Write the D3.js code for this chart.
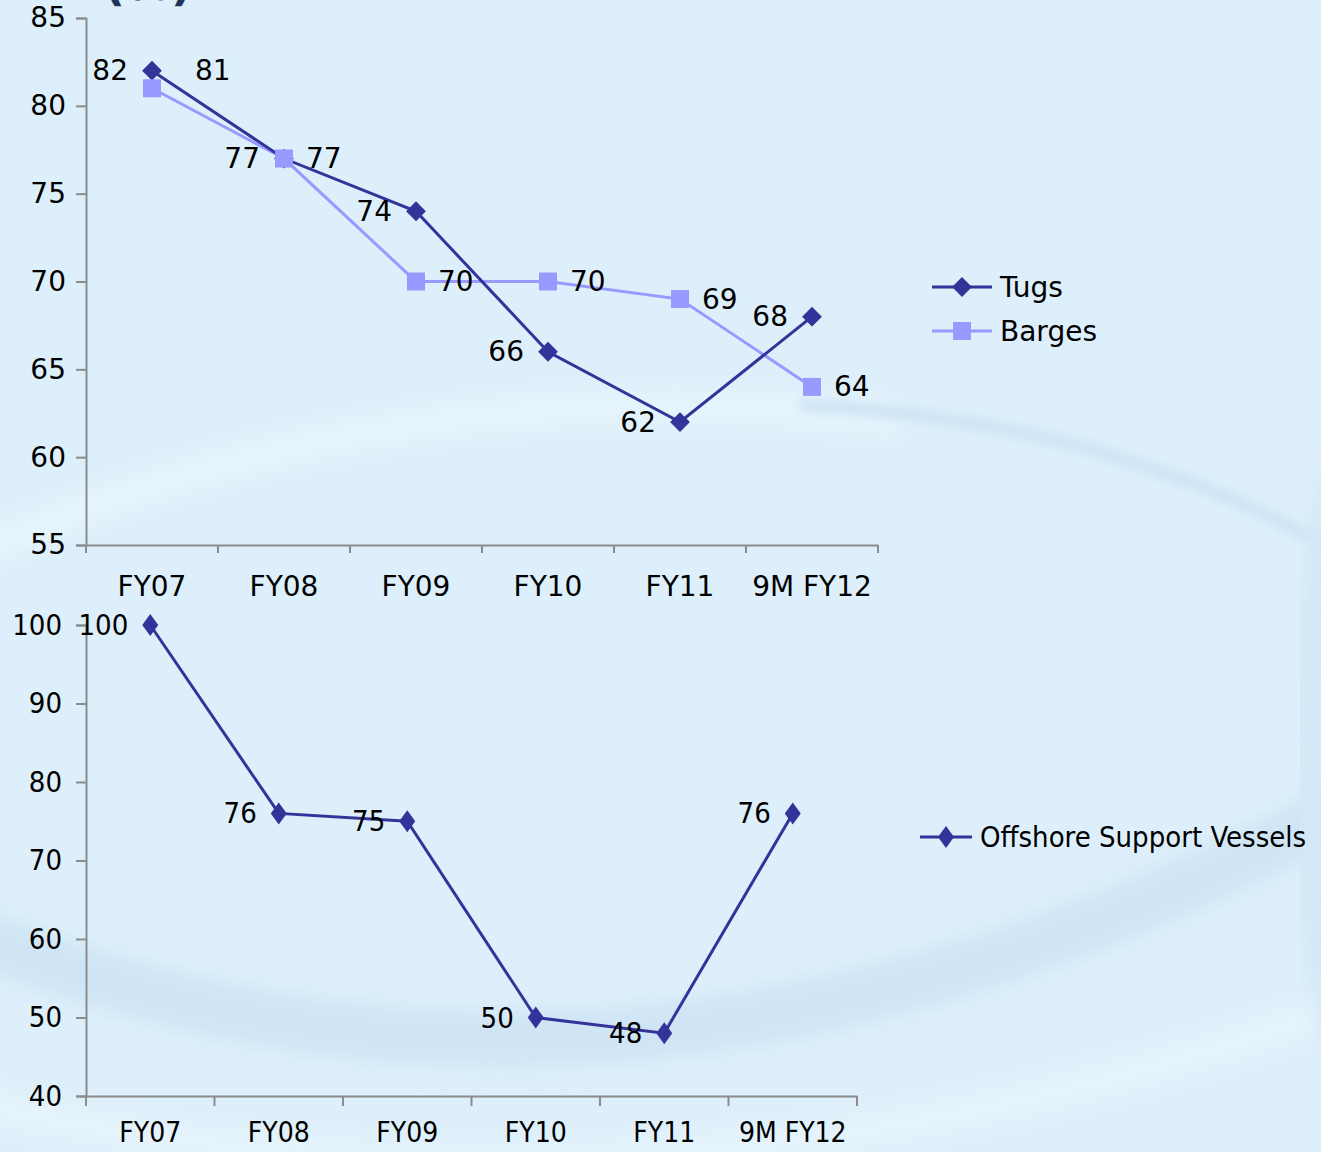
<!DOCTYPE html>
<html>
<head>
<meta charset="utf-8">
<script src="https://cdn.jsdelivr.net/npm/d3@7"></script>
<style>
  html, body { margin: 0; padding: 0; background: #ddeffa; }
  svg { display: block; }
  .upper text { font-family: "DejaVu Sans", Verdana, sans-serif; font-size: 28px; fill: #000; }
  .lower text { font-family: "DejaVu Sans Condensed", "DejaVu Sans", sans-serif; font-stretch: condensed; font-size: 29px; fill: #000; }
</style>
</head>
<body>
<svg id="chart" width="1321" height="1152"></svg>
<script>
// data
const categories = ["FY07", "FY08", "FY09", "FY10", "FY11", "9M FY12"];
const tugs = [82, 77, 74, 66, 62, 68];
const barges = [81, 77, 70, 70, 69, 64];
const osv = [100, 76, 75, 50, 48, 76];
const topTicks = [55, 60, 65, 70, 75, 80, 85];
const bottomTicks = [40, 50, 60, 70, 80, 90, 100];

const tugsColor = "#333399";
const bargesColor = "#9999ff";
const axisColor = "#8c8c8c";

const svg = d3.select("#chart");

// background swirl
const defs = svg.append("defs");
defs.append("filter").attr("id", "blur").attr("x", "-20%").attr("y", "-50%").attr("width", "140%").attr("height", "200%")
  .append("feGaussianBlur").attr("stdDeviation", 10);
defs.append("filter").attr("id", "blur2").attr("x", "-20%").attr("y", "-50%").attr("width", "140%").attr("height", "200%")
  .append("feGaussianBlur").attr("stdDeviation", 4);
svg.append("rect").attr("width", 1321).attr("height", 1152).attr("fill", "#ddeffa");
const bg = svg.append("g").attr("fill", "none");
bg.append("path").attr("d", "M-40,560 Q400,360 900,420").attr("stroke", "#e6f4fc").attr("stroke-width", 34).attr("filter", "url(#blur)");
bg.append("path").attr("d", "M-40,930 Q620,1200 1360,800").attr("stroke", "#cfe5f5").attr("stroke-width", 56).attr("filter", "url(#blur)");
bg.append("path").attr("d", "M-40,1100 Q650,1260 1360,1000").attr("stroke", "#e4f3fc").attr("stroke-width", 40).attr("filter", "url(#blur)");
bg.append("path").attr("d", "M800,405 Q1120,420 1350,560").attr("stroke", "#cfe5f5").attr("stroke-width", 14).attr("filter", "url(#blur2)");
bg.append("path").attr("d", "M1345,470 Q1270,760 1345,1040").attr("stroke", "#d3e8f6").attr("stroke-width", 40).attr("filter", "url(#blur)");

// clipped title remnant
svg.append("text").attr("x", 104).attr("y", 0).style("font-family", "DejaVu Sans, sans-serif")
  .style("font-size", "46px").style("font-weight", "bold").style("fill", "#1d3557").text("(%)");

// ---------- top chart ----------
const upper = svg.append("g").attr("class", "upper");
const x1 = d3.scaleBand().domain(categories).range([86, 878]);
const y1 = d3.scaleLinear().domain([55, 85]).range([545, 18]);

const yAx1 = upper.append("g").attr("transform", "translate(86,0)")
  .call(d3.axisLeft(y1).tickValues(topTicks).tickSize(10).tickPadding(10).tickFormat(d3.format("d")));
const xAx1 = upper.append("g").attr("transform", "translate(0,545)")
  .call(d3.axisBottom(x1).tickSize(0).tickPadding(31));
upper.append("g").selectAll("line").data(d3.range(categories.length + 1)).join("line")
  .attr("x1", i => 86 + i * x1.step()).attr("x2", i => 86 + i * x1.step())
  .attr("y1", 545).attr("y2", 553).attr("stroke", axisColor).attr("stroke-width", 2);
[yAx1, xAx1].forEach(a => {
  a.selectAll("path, line").attr("stroke", axisColor).attr("stroke-width", 2);
  a.selectAll("text").attr("fill", "#000");
  a.attr("font-family", null).attr("font-size", null);
});

const cx1 = c => x1(c) + x1.bandwidth() / 2;
const line1 = d3.line().x((d, i) => cx1(categories[i])).y(d => y1(d));

upper.append("path").datum(barges).attr("d", line1).attr("fill", "none")
  .attr("stroke", bargesColor).attr("stroke-width", 3);
upper.append("path").datum(tugs).attr("d", line1).attr("fill", "none")
  .attr("stroke", tugsColor).attr("stroke-width", 3);

upper.selectAll(".tugPt").data(tugs).join("rect").attr("class", "tugPt")
  .attr("x", -7).attr("y", -7).attr("width", 14).attr("height", 14).attr("fill", tugsColor)
  .attr("transform", (d, i) => `translate(${cx1(categories[i])},${y1(d)}) rotate(45)`);
upper.selectAll(".bargePt").data(barges).join("rect").attr("class", "bargePt")
  .attr("x", -9).attr("y", -9).attr("width", 18).attr("height", 18).attr("fill", bargesColor)
  .attr("transform", (d, i) => `translate(${cx1(categories[i])},${y1(d)})`);

// labels: tugs left of points, barges right (FY07 barge above-right)
upper.selectAll(".tugLbl").data(tugs).join("text").attr("class", "tugLbl")
  .attr("x", (d, i) => cx1(categories[i]) - 24).attr("y", d => y1(d))
  .attr("text-anchor", "end").attr("dominant-baseline", "central").text(d => d);
upper.selectAll(".bargeLbl").data(barges).join("text").attr("class", "bargeLbl")
  .attr("x", (d, i) => cx1(categories[i]) + (i === 0 ? 43 : 22))
  .attr("y", (d, i) => y1(d) - (i === 0 ? 18 : 0))
  .attr("dominant-baseline", "central").text(d => d);

// legend
const leg1 = upper.append("g");
[["Tugs", tugsColor, "d"], ["Barges", bargesColor, "s"]].forEach(([name, col, m], k) => {
  const g = leg1.append("g").attr("transform", `translate(932,${287 + k * 44})`);
  g.append("line").attr("x1", 0).attr("x2", 60).attr("stroke", col).attr("stroke-width", 3);
  if (m === "d") g.append("rect").attr("x", -7).attr("y", -7).attr("width", 14).attr("height", 14)
    .attr("fill", col).attr("transform", "translate(30,0) rotate(45)");
  else g.append("rect").attr("x", 21).attr("y", -9).attr("width", 18).attr("height", 18).attr("fill", col);
  g.append("text").attr("x", 68).attr("dominant-baseline", "central").text(name);
});

// ---------- bottom chart ----------
const lower = svg.append("g").attr("class", "lower");
const x2 = d3.scaleBand().domain(categories).range([86, 857]);
const y2 = d3.scaleLinear().domain([40, 100]).range([1096, 625]);

const yAx2 = lower.append("g").attr("transform", "translate(86,0)")
  .call(d3.axisLeft(y2).tickValues(bottomTicks).tickSize(10).tickPadding(14).tickFormat(d3.format("d")));
const xAx2 = lower.append("g").attr("transform", "translate(0,1096)")
  .call(d3.axisBottom(x2).tickSize(0).tickPadding(26));
lower.append("g").selectAll("line").data(d3.range(categories.length + 1)).join("line")
  .attr("x1", i => 86 + i * x2.step()).attr("x2", i => 86 + i * x2.step())
  .attr("y1", 1096).attr("y2", 1106).attr("stroke", axisColor).attr("stroke-width", 2);
[yAx2, xAx2].forEach(a => {
  a.selectAll("path, line").attr("stroke", axisColor).attr("stroke-width", 2);
  a.selectAll("text").attr("fill", "#000");
  a.attr("font-family", null).attr("font-size", null);
});
xAx2.selectAll("text").style("font-size", "28px");

const cx2 = c => x2(c) + x2.bandwidth() / 2;
const line2 = d3.line().x((d, i) => cx2(categories[i])).y(d => y2(d));
lower.append("path").datum(osv).attr("d", line2).attr("fill", "none")
  .attr("stroke", tugsColor).attr("stroke-width", 3);
lower.selectAll(".osvPt").data(osv).join("path").attr("class", "osvPt")
  .attr("d", "M0,-11L8,0L0,11L-8,0Z").attr("fill", tugsColor)
  .attr("transform", (d, i) => `translate(${cx2(categories[i])},${y2(d)})`);
lower.selectAll(".osvLbl").data(osv).join("text").attr("class", "osvLbl")
  .attr("x", (d, i) => cx2(categories[i]) - 22).attr("y", d => y2(d))
  .attr("text-anchor", "end").attr("dominant-baseline", "central").text(d => d);

const leg2 = lower.append("g").attr("transform", "translate(920,837)");
leg2.append("line").attr("x1", 0).attr("x2", 52).attr("stroke", tugsColor).attr("stroke-width", 3);
leg2.append("path").attr("d", "M0,-11L8,0L0,11L-8,0Z").attr("fill", tugsColor).attr("transform", "translate(26,0)");
leg2.append("text").attr("x", 60).attr("dominant-baseline", "central").text("Offshore Support Vessels");
</script>
</body>
</html>
